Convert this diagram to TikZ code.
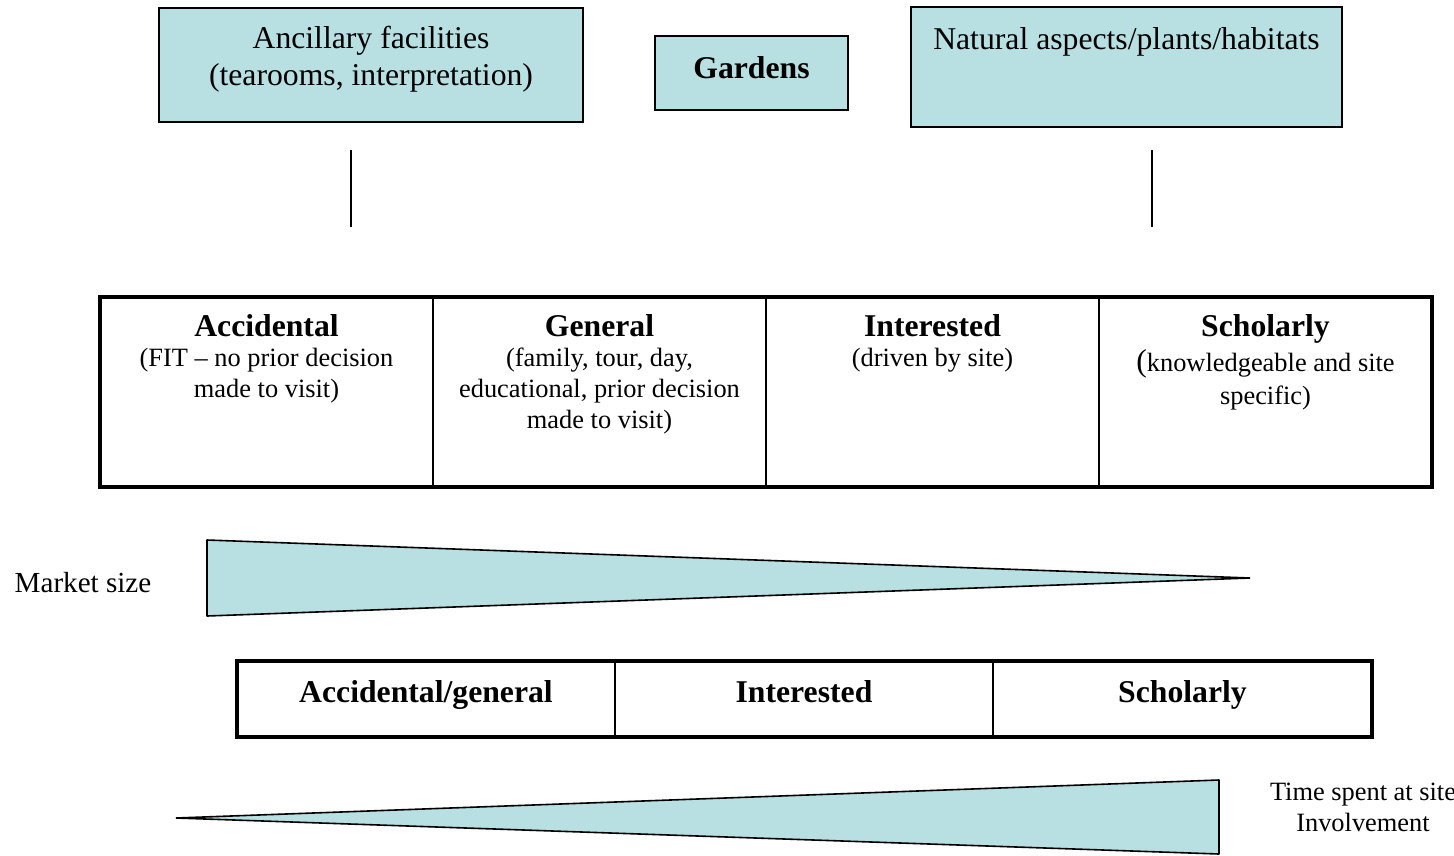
\documentclass[tikz,border=0pt]{standalone}
\usepackage{fontspec}
\setmainfont{Liberation Serif}
\newcommand\szL{\fontsize{31.7}{37}\selectfont}
\newcommand\szM{\fontsize{29.1}{34}\selectfont}
\newcommand\szS{\fontsize{26.4}{31}\selectfont}
\definecolor{boxfill}{RGB}{184,224,227}
\begin{document}
\begin{tikzpicture}[x=1pt,y=-1pt,
  thinline/.style={line width=1.3pt},
  thickline/.style={line width=4.5pt},
  tealbox/.style={draw,thinline,fill=boxfill,inner sep=0pt},
  txt/.style={inner sep=0pt,align=center},
  head/.style={txt,font=\szL\bfseries,anchor=base},
  desc/.style={txt,font=\szS,anchor=north},
  wedge/.style={draw,line width=1.6pt,fill=boxfill,line join=bevel}]
\useasboundingbox (0,0) rectangle (1454,855);

% --- top boxes ---
\node[tealbox,minimum width=424pt,minimum height=114pt] (anc) at (371,65) {};
\node[txt,font=\szL] (anctext) at (371,59) {Ancillary facilities\\(tearooms, interpretation)};
\node[tealbox,minimum width=193pt,minimum height=74pt] (gar) at (751.5,73) {};
\node[head] (gartext) at (751.5,78) {Gardens};
\node[tealbox,minimum width=431pt,minimum height=120pt] (nat) at (1126.5,67) {};
\node[txt,font=\szL,anchor=base] (nattext) at (1126.5,49) {Natural aspects/plants/habitats};

% --- short vertical lines ---
\coordinate (l1a) at (351,150); \coordinate (l1b) at (351,227);
\coordinate (l2a) at (1152,150); \coordinate (l2b) at (1152,227);
\draw[thinline] (l1a) -- (l1b);
\draw[thinline] (l2a) -- (l2b);

% --- visitor type table ---
\coordinate (tA) at (100,297); \coordinate (tB) at (1432,487);
\draw[thinline] (433,297) -- (433,487);
\draw[thinline] (766,297) -- (766,487);
\draw[thinline] (1099,297) -- (1099,487);
\draw[thickline] (tA) rectangle (tB);

\node[head] (h1) at (266.5,336) {Accidental};
\node[head] (h2) at (599.5,336) {General};
\node[head] (h3) at (932.5,336) {Interested};
\node[head] (h4) at (1265.5,336) {Scholarly};
\node[desc] (d1) at (266.5,348) {(FIT -- no prior decision\\made to visit)};
\node[desc] (d2) at (599.5,348) {(family, tour, day,\\educational, prior decision\\made to visit)};
\node[desc] (d3) at (932.5,348) {(driven by site)};
\node[desc] (d4) at (1265.5,349) {{\szL(}knowledgeable and site\\[2pt]specific)};

% --- market size wedge ---
\node[txt,font=\szM] (mkt) at (83,583) {Market size};
\coordinate (m1) at (207,540); \coordinate (m2) at (1250,578); \coordinate (m3) at (207,616);
\draw[wedge] (m1) -- (m2) -- (m3) -- cycle;

% --- grouped table ---
\coordinate (gA) at (237,661); \coordinate (gB) at (1372,737);
\draw[thinline] (615,661) -- (615,737);
\draw[thinline] (993,661) -- (993,737);
\draw[thickline] (gA) rectangle (gB);
\node[head] (g1) at (426,702) {Accidental/general};
\node[head] (g2) at (804,702) {Interested};
\node[head] (g3) at (1182.5,702) {Scholarly};

% --- time / involvement wedge ---
\coordinate (i1) at (176,818); \coordinate (i2) at (1219,780); \coordinate (i3) at (1219,854);
\draw[wedge] (i1) -- (i2) -- (i3) -- cycle;
\node[txt,font=\szS] (time) at (1363,807) {Time spent at site\\Involvement};
\end{tikzpicture}
\end{document}
